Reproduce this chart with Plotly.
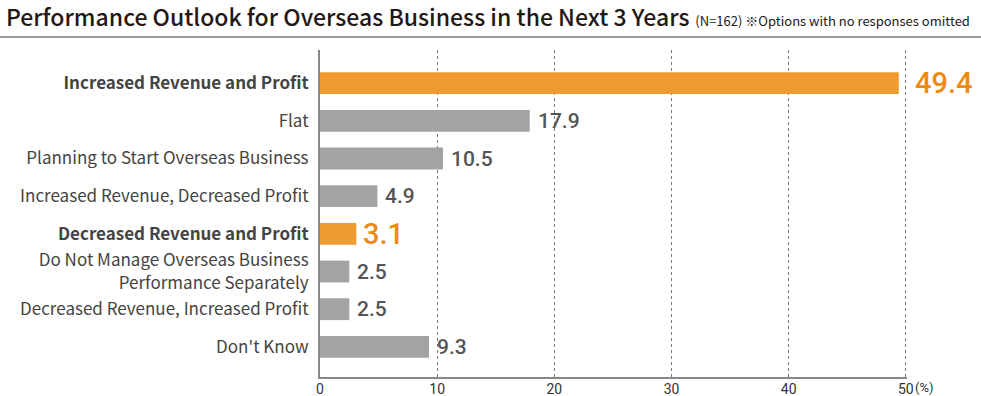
import plotly.graph_objects as go

categories = [
    "Increased Revenue and Profit",
    "Flat",
    "Planning to Start Overseas Business",
    "Increased Revenue, Decreased Profit",
    "Decreased Revenue and Profit",
    "Do Not Manage Overseas Business<br>Performance Separately",
    "Decreased Revenue, Increased Profit",
    "Don't Know",
]
values = [49.4, 17.9, 10.5, 4.9, 3.1, 2.5, 2.5, 9.3]
highlight = [True, False, False, False, True, False, False, False]
x_ticks = [0, 10, 20, 30, 40, 50]
x_ticktext = ["0", "10", "20", "30", "40", "50"]

ORANGE = "#f09b2f"
ORANGE_TXT = "#ee8a10"
GRAY = "#a3a3a3"
GRAY_TXT = "#555555"
FONT = "Noto Sans CJK JP"
NUMFONT = "Roboto"

labels = [f"<b>{c}</b>" if h else c for c, h in zip(categories, highlight)]
bar_colors = [ORANGE if h else GRAY for h in highlight]

fig = go.Figure(go.Bar(
    x=values, y=labels, orientation="h",
    marker=dict(color=bar_colors, line=dict(width=0)),
    width=0.58,
    hoverinfo="x+y",
))

W, H = 981, 396
ml, mr, mt, mb = 320, 74, 50, 19
pw = W - ml - mr
ph = H - mt - mb

annotations = []
for i, (lab, v, h) in enumerate(zip(labels, values, highlight)):
    if h:
        shift = 14 if v > 45 else 5
        fnt = dict(size=29, color=ORANGE_TXT, family=NUMFONT, weight=500)
    else:
        shift = 6
        fnt = dict(size=21, color=GRAY_TXT, family=NUMFONT, weight=500)
    annotations.append(dict(
        x=v, y=lab, xref="x", yref="y", text=f"{v}", showarrow=False,
        xanchor="left", yanchor="middle", xshift=shift, font=fnt,
    ))
annotations.append(dict(
    x=50, y=0, xref="x", yref="paper", text="(%)", showarrow=False,
    xanchor="left", yanchor="middle", xshift=7, yshift=-10,
    font=dict(size=13, color="#333333", family=NUMFONT),
))

fig.update_layout(
    width=W, height=H,
    margin=dict(l=ml, r=mr, t=mt, b=mb, autoexpand=False),
    paper_bgcolor="white", plot_bgcolor="white",
    showlegend=False,
    font=dict(family=FONT, color="#333333"),
    title=dict(
        text="Performance Outlook for Overseas Business in the Next 3 Years"
             "<span style='font-size:13px;font-weight:400'>  (N=162) ※Options with no responses omitted</span>",
        x=0.006, xref="container", xanchor="left",
        y=0.955, yref="container", yanchor="middle",
        font=dict(size=23, color="#231815", family=FONT, weight=500),
    ),
    xaxis=dict(
        range=[0, 50.1], tickvals=x_ticks, ticktext=x_ticktext,
        showgrid=True, gridcolor="#777777", griddash="dot", gridwidth=1,
        showline=True, linecolor="#888888", linewidth=2,
        zeroline=False, ticks="", tickfont=dict(size=14, color="#333333", family=NUMFONT),
        ticklabelstandoff=-2,
        automargin=False, fixedrange=True,
    ),
    yaxis=dict(
        categoryorder="array", categoryarray=labels,
        range=[7.8, -0.88],
        showline=True, linecolor="#888888", linewidth=2,
        showgrid=False, ticks="", ticklabelstandoff=6,
        tickfont=dict(size=17, color="#444444"),
        automargin=False, fixedrange=True,
    ),
    shapes=[dict(
        type="line", xref="paper", yref="paper",
        x0=-ml / pw, x1=1 + mr / pw,
        y0=1 + (mt - 37) / ph, y1=1 + (mt - 37) / ph,
        line=dict(color="#9a9a9a", width=2),
    )],
    annotations=annotations,
)

fig.write_html("out.html", config={"displayModeBar": False},
               post_script="document.body.style.margin='0';")
